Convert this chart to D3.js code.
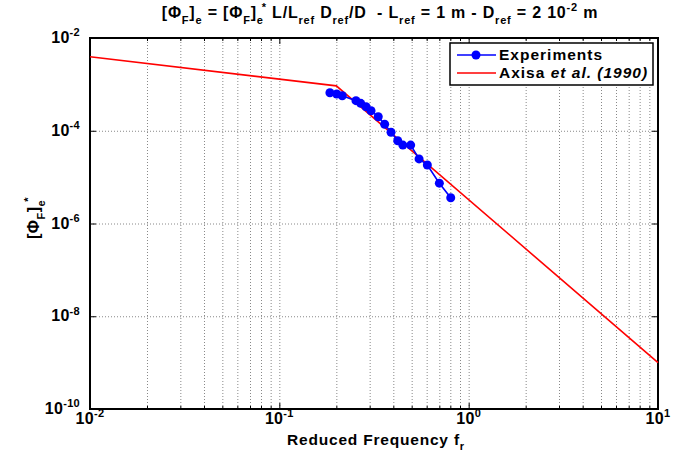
<!DOCTYPE html>
<html>
<head>
<meta charset="utf-8">
<style>
  body { margin: 0; background: #fff; }
  svg { font-family: "Liberation Sans", Arial, sans-serif; font-weight: bold; }
  text { white-space: pre; }
</style>
</head>
<body>
<svg width="686" height="454"></svg>
<script src="https://cdn.jsdelivr.net/npm/d3@7"></script>
<script>

// experiments (reduced frequency, [PhiF]e*)
var freqExp = [0.185, 0.201, 0.215, 0.254, 0.269, 0.287, 0.305, 0.333, 0.360,
               0.389, 0.422, 0.449, 0.494, 0.547, 0.605, 0.700, 0.804];
var phiExp  = [6.6e-4, 6.2e-4, 5.7e-4, 4.45e-4, 3.9e-4, 3.3e-4, 2.7e-4, 2.0e-4, 1.38e-4,
               9.3e-5, 6.1e-5, 4.9e-5, 4.9e-5, 2.47e-5, 1.83e-5, 7.4e-6, 3.6e-6];

// Axisa et al. (1990) reference curve, read at its corners
var freqAxisa = [0.01, 0.2, 10];
var phiAxisa  = [3.95e-3, 9.3e-4, 1.0e-9];

var xTicks = [1e-2, 1e-1, 1e0, 1e1];
var xTickLabels = ["-2", "-1", "0", "1"];
var yTicks = [1e-2, 1e-4, 1e-6, 1e-8, 1e-10];
var yTickLabels = ["-2", "-4", "-6", "-8", "-10"];

var svg = d3.select("svg"),
    margin = {top: 38, right: 28, bottom: 45, left: 90},
    width = +svg.attr("width") - margin.left - margin.right,
    height = +svg.attr("height") - margin.top - margin.bottom,
    g = svg.append("g").attr("transform", "translate(" + margin.left + "," + margin.top + ")");

var x = d3.scaleLog().domain([1e-2, 1e1]).range([0, width]);
var y = d3.scaleLog().domain([1e-10, 1e-2]).range([height, 0]);

// writes text with sub / superscripts as tspans
function rich(sel, parts, base, small) {
  var cur = 0;
  parts.forEach(function(p) {
    var off = p.s === "sub" ? base * 0.35 : p.s === "sup" ? -base * 0.42 : 0;
    var ts = sel.append("tspan").attr("dy", off - cur).text(p.t);
    if (p.s) ts.attr("font-size", small);
    if (p.dx) ts.attr("dx", p.dx);
    if (p.i) ts.style("font-style", "italic");
    cur = off;
  });
}

function grid(a) {
  a.select(".domain").remove();
  a.selectAll("line").attr("stroke", "#888").attr("stroke-dasharray", "1,2");
}
function marks(a) {
  a.select(".domain").remove();
  a.selectAll("line").attr("stroke", "#000");
}

// grid
g.append("g")
  .attr("transform", "translate(0," + height + ")")
  .call(d3.axisBottom(x).tickValues(x.ticks().filter(function(d) { return d > 1.001e-2 && d < 9.99; }))
        .tickSize(-height).tickFormat(""))
  .call(grid);

g.append("g")
  .call(d3.axisLeft(y).tickValues([1e-4, 1e-6, 1e-8]).tickSize(-width).tickFormat(""))
  .call(grid);

// inside tick marks
var minorX = x.ticks().filter(function(d) { return xTicks.indexOf(d) < 0; });
[[d3.axisBottom, height], [d3.axisTop, 0]].forEach(function(s) {
  g.append("g").attr("transform", "translate(0," + s[1] + ")")
    .call(s[0](x).tickValues(minorX).tickSize(-3).tickFormat(""))
    .call(marks);
  g.append("g").attr("transform", "translate(0," + s[1] + ")")
    .call(s[0](x).tickValues(xTicks).tickSize(-6).tickFormat(""))
    .call(marks);
});
[[d3.axisLeft, 0], [d3.axisRight, width]].forEach(function(s) {
  g.append("g").attr("transform", "translate(" + s[1] + ",0)")
    .call(s[0](y).tickValues(yTicks).tickSize(-6).tickFormat(""))
    .call(marks);
});

// frame
g.append("rect").attr("width", width).attr("height", height)
  .attr("fill", "none").attr("stroke", "#000").attr("stroke-width", 2);

// tick labels
xTicks.forEach(function(d, i) {
  var t = g.append("text").attr("x", x(d)).attr("y", height + 15)
    .attr("text-anchor", "middle").attr("font-size", 16).attr("letter-spacing", 0.3);
  rich(t, [{t: "10"}, {t: xTickLabels[i], s: "sup"}], 16, 11);
});
yTicks.forEach(function(d, i) {
  var t = g.append("text").attr("x", -10).attr("y", y(d) + 5)
    .attr("text-anchor", "end").attr("font-size", 16).attr("letter-spacing", 0.3);
  rich(t, [{t: "10"}, {t: yTickLabels[i], s: "sup"}], 16, 11);
});

// Axisa line
var line = d3.line().x(function(d) { return x(d[0]); }).y(function(d) { return y(d[1]); });
g.append("path")
  .datum(d3.zip(freqAxisa, phiAxisa))
  .attr("d", line).attr("fill", "none").attr("stroke", "#ff0000").attr("stroke-width", 1.6);

// experiments
var exp = d3.zip(freqExp, phiExp);
g.append("path").datum(exp)
  .attr("d", line).attr("fill", "none").attr("stroke", "#0000ff").attr("stroke-width", 1.6);
g.selectAll(".dot").data(exp).enter().append("circle")
  .attr("class", "dot")
  .attr("cx", function(d) { return x(d[0]); })
  .attr("cy", function(d) { return y(d[1]); })
  .attr("r", 4.5).attr("fill", "#0000ff");

// title
var title = svg.append("text").attr("x", 380).attr("y", 18)
  .attr("text-anchor", "middle").attr("font-size", 16).attr("letter-spacing", 0.8);
rich(title, [
  {t: "[\u03A6"}, {t: "F", s: "sub"}, {t: "]"}, {t: "e", s: "sub"},
  {t: " = [\u03A6"}, {t: "F", s: "sub"}, {t: "]"}, {t: "e", s: "sub"}, {t: "*", s: "sup", dx: -2},
  {t: " L/L"}, {t: "ref", s: "sub"}, {t: " D"}, {t: "ref", s: "sub"},
  {t: "/D  - L"}, {t: "ref", s: "sub"}, {t: " = 1 m - D"}, {t: "ref", s: "sub"},
  {t: " = 2 10"}, {t: "-2", s: "sup"}, {t: " m"}
], 16, 11);

// axis titles
var xl = svg.append("text").attr("x", 376).attr("y", 445)
  .attr("text-anchor", "middle").attr("font-size", 15.5).attr("letter-spacing", 0.8);
rich(xl, [{t: "Reduced Frequency f"}, {t: "r", s: "sub"}], 15.5, 11);

var yl = svg.append("text").attr("transform", "translate(39,218) rotate(-90)")
  .attr("text-anchor", "middle").attr("font-size", 16).attr("letter-spacing", 0.5);
rich(yl, [{t: "[\u03A6"}, {t: "F", s: "sub"}, {t: "]"}, {t: "e", s: "sub"}, {t: "*", s: "sup", dx: -2}], 16, 11);

// legend
var lg = svg.append("g").attr("transform", "translate(450,43)");
lg.append("rect").attr("width", 203).attr("height", 42)
  .attr("fill", "#fff").attr("stroke", "#000").attr("stroke-width", 1.5);
lg.append("line").attr("x1", 7).attr("x2", 46).attr("y1", 12).attr("y2", 12)
  .attr("stroke", "#0000ff").attr("stroke-width", 1.6);
lg.append("circle").attr("cx", 26).attr("cy", 12).attr("r", 4.5).attr("fill", "#0000ff");
lg.append("line").attr("x1", 7).attr("x2", 46).attr("y1", 30).attr("y2", 30)
  .attr("stroke", "#ff0000").attr("stroke-width", 1.6);
lg.append("text").attr("x", 49).attr("y", 17).attr("font-size", 15.5)
  .attr("letter-spacing", 1).text("Experiments");
var lt = lg.append("text").attr("x", 49).attr("y", 35).attr("font-size", 15.5).attr("letter-spacing", 1);
lt.append("tspan").text("Axisa ");
lt.append("tspan").style("font-style", "italic").text("et al. (1990)");

</script>
</body>
</html>
